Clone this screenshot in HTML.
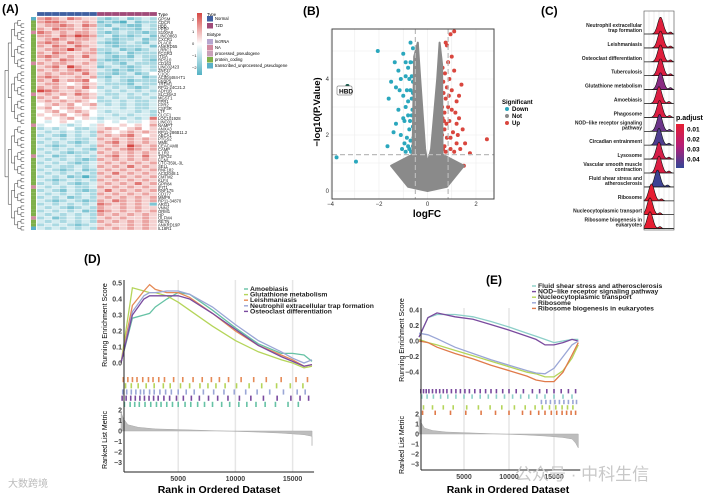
<!DOCTYPE html>
<html><head><meta charset="utf-8"><style>
html,body{margin:0;padding:0;background:#fff;}
svg{display:block;font-family:"Liberation Sans","Noto Sans CJK SC",sans-serif;}
</style></head><body>
<svg id="fig" width="709" height="496" viewBox="0 0 709 496" xmlns="http://www.w3.org/2000/svg">
<g id="pA"></g>
<g id="pB"></g>
<g id="pC"></g>
<g id="pD"></g>
<g id="pE"></g>
<text x="8" y="487" font-size="10" fill="#bbb">大数跨境</text>
<text x="515" y="480" font-size="17" fill="#c8c8c8">公众号 · 中科生信</text>
</svg>
<script>
// ---------- DATA ----------
const heatRows = [
"ghgfhgffcbcdbcdc","ghhgffgfbcbadbcc","fgghgfhgcbdcbbdc","gfhggfgfcdbccbdc","hgfgfggfcbcdccbc","ggfhgihgcdbcbcdb",
"fghgfggfdcbccdbc","ghgfhgffcbbcdcbd","gfhgfhgfdcbcccdb","fgggigfgccdbcbcd","gfhgffggcbcdbccc","ghgfgfhfdcbcbdcc",
"fgfhgffgcbbccdcb","gfggffgfcdcbdccc","fghfigffbcdcbcdc","gfgfghgfdcbcbcdc","fgfggfhfccbcdbce","ghgffgfgcbdccdbc",
"gfhfgghedcdcbccc","fggfefgfdcccbdcc","gfgfgfhfcdcdcbcd","ihgffgfedcdcdcdc","fgfgfhgfdccdcdcd","gfgeffgfcdcdccdc",
"fgfgfgfeccdcdccd","efgfgefgdcdcdccd","fgefgfefdddcdccd","efgefgfedcdddcdc","fefgefgeddcdcddc","efefgefdcddcdcdh",
"edefedeedededdef","deedcdedfeefefeg","cdcdeccdfgfefgef","dcdcdcdcgfefgfgf","cdcbdcdcfgfghfef","dcdcdccdgfgfgfgf",
"cdcdcbcdfghfgfgf","dcbcdcdcgfgfigfg","cdcdcdcbfgfghgfg","dcdcbccdgfgfgfgf","cdbcdcdcfghfgfhf","dcdcdcbcgfgfgfgf",
"cdcdcbcdfgfgfgfg","dcdccdcdgfgfhfgf","cdcbcdbcfgfgfgfg","dcdcdcdcgfhfgfgf","cdcdbcacfgfgfgfg","dcbcdcdcgfgfgfgf",
"cdcdcbcdfgfgfhfg","dcdcdccdgfgfgfgf","cdcbdcbcfhfgfgfg","dcdcdcdcgfgfgfgf","cdcdbcdcfgfgfgfg","dcbcdcbcgfhgfgfg",
"cdcdcdcdhgfgfgfb","dcdcbcdcgffgfgff","cdcdcdbchgfgfgfg","dcdcdcdcgfgfgfgf","cdbcdcdcfgfgffgf","dcdcdcdcgfgfgfgf",
"cdcdcbcdfgffgfgf","dcdcdcdcgfgfgfgf"];
const heatTypes = ["Normal","Normal","Normal","Normal","Normal","Normal","Normal","Normal","T2D","T2D","T2D","T2D","T2D","T2D","T2D","T2D"];
const geneLabels = ["GPSM","CDCR","HBB","PPBP","S100A8","LINC0863","CXCR1","PLAC8","ANKRD55","LRRC1","FCGR3","ITGA","RPS10","CD163","LINC02423","ZNF37","C1QC","AC004484-IT1","FKBP5","TREM1","RP11-24C21.2","ADH1B","SLC26A3","MGST1","FPR1","FPR2","CSF3R","LTF","CLCF1","LOC101928","LINC01","NAMPT","ANXA3","RP11-286B11.2","ABCA1","PTGS2","MME","CEACAM8","CAMP","IL1R2","TSPO2","FCN1","CTC-359L-3L","SELL","RNF182","AC02048.1","CMTM2","KLF4","GPR84","IFIT1","RNF175","CD177","MMP9","RP11-34870","ARG1","VNN2","ORM1","HP","OLFM4","RETN","ANKRD19P","IL18R1"];

const downPts = [[-3.3,3.75],[-2.05,5.0],[-1.6,3.3],[-1.65,1.6],[-3.75,1.2],[-2.95,1.05],[-1.5,3.9],[-1.35,4.6],[-1.2,4.3],[-1.3,3.7],[-1.1,4.0],[-1.0,4.9],[-0.9,4.6],[-0.8,4.4],[-0.7,5.3],[-0.6,5.1],[-1.0,3.4],[-0.9,3.0],[-1.2,2.9],[-1.3,2.4],[-1.1,2.0],[-0.95,2.5],[-0.85,1.9],[-0.75,2.2],[-0.7,3.6],[-0.65,2.7],[-0.6,1.6],[-1.05,1.5],[-0.9,1.4],[-0.75,1.5],[-0.65,4.1],[-1.4,2.1],[-1.15,3.6],[-0.8,3.2],[-0.6,3.9],[-0.7,1.8],[-1.0,2.6],[-0.9,4.1],[-0.55,4.6],[-0.8,2.7],[-0.6,2.3],[-0.65,3.3],[-0.7,4.6],[-0.58,1.9],[-0.62,2.9],[-0.85,3.6],[-0.75,4.0],[-0.68,1.4],[-0.8,1.6],[-0.95,1.7],[-0.6,3.5],[-0.72,2.5]];
const upPts = [[0.95,5.6],[1.1,5.7],[0.75,5.3],[0.8,5.2],[2.45,1.85],[1.75,1.35],[1.5,0.9],[1.4,3.8],[1.2,3.2],[1.3,2.6],[1.45,2.2],[1.1,4.3],[0.9,4.0],[0.85,4.6],[1.0,3.6],[0.75,3.3],[0.7,2.8],[0.9,2.5],[1.05,2.1],[0.8,1.9],[0.7,1.6],[1.2,1.7],[1.35,1.5],[0.95,1.5],[0.65,3.9],[1.15,2.8],[0.85,3.0],[0.7,2.2],[1.0,2.9],[1.25,2.0],[0.62,4.4],[0.95,1.9],[1.3,3.4],[0.75,1.4],[1.1,1.4],[1.55,1.7],[0.8,3.7],[1.0,4.8],[0.68,2.5],[1.2,2.4],[0.6,3.0],[0.66,3.5],[0.6,2.0],[0.72,4.2],[0.64,1.5],[0.78,2.4],[0.88,3.4],[0.62,2.6]];
const notCloud = [[0,0],[-0.8,0.15],[-1.5,0.9],[-0.62,1.3],[-0.55,4.8],[-0.4,5.3],[-0.3,4.0],[-0.1,1.5],[0,1.0],[0.15,1.5],[0.4,4.0],[0.5,5.3],[0.6,4.5],[0.62,1.3],[1.5,0.9],[0.8,0.15]];

const cLabels = [["Neutrophil extracellular","trap formation"],["Leishmaniasis"],["Osteoclast differentiation"],["Tuberculosis"],["Glutathione metabolism"],["Amoebiasis"],["Phagosome"],["NOD−like receptor signaling","pathway"],["Circadian entrainment"],["Lysosome"],["Vascular smooth muscle","contraction"],["Fluid shear stress and","atherosclerosis"],["Ribosome"],["Nucleocytoplasmic transport"],["Ribosome biogenesis in","eukaryotes"]];
const cPeak = [0.55,0.55,0.55,0.55,0.55,0.5,0.52,0.52,0.5,0.5,0.5,0.45,0.25,0.2,0.2];
const cPadj = [0.008,0.008,0.008,0.01,0.035,0.01,0.01,0.04,0.045,0.012,0.01,0.048,0.005,0.005,0.005];

const dNames = ["Amoebiasis","Glutathione metabolism","Leishmaniasis","Neutrophil extracellular trap formation","Osteoclast differentiation"];
const dRanks = [0,1000,2000,2500,3000,4000,5000,6000,8000,10000,12000,14000,15000,16000,16700];
const dES0 = [0,0.28,0.30,0.31,0.35,0.40,0.44,0.43,0.33,0.22,0.12,0.06,0.06,0.05,0.01];
const dES1 = [0,0.47,0.45,0.44,0.44,0.42,0.38,0.33,0.23,0.14,0.07,0.02,0.0,-0.03,-0.02];
const dES2 = [0,0.36,0.45,0.49,0.46,0.44,0.44,0.41,0.31,0.20,0.11,0.05,0.02,-0.02,-0.01];
const dES3 = [0,0.32,0.42,0.44,0.44,0.45,0.45,0.43,0.35,0.24,0.14,0.07,0.03,0.0,0.02];
const dES4 = [0,0.30,0.40,0.42,0.42,0.42,0.42,0.40,0.31,0.21,0.11,0.04,0.01,-0.02,-0.01];
const dHits0 = [300,800,1200,1600,2100,2600,3100,3500,4000,4500,5000,5600,6100,6700,7300,8000,8800,9500,10300,11000,11800,12600,13500,14600,15500];
const dHits1 = [400,900,1500,2200,2900,3700,4300,5200,6000,6900,7600,8300,9100,10100,11200,12300,13600,14800,15900];
const dHits2 = [200,600,1000,1400,1900,2400,2800,3300,3800,4600,5400,6300,7100,7900,8600,9400,10500,11600,12700,14000,15300,16300];
const dHits3 = [150,500,900,1300,1700,2000,2500,2900,3400,3900,4400,5000,5700,6400,7200,8100,9000,9900,10900,11900,13000,14200,15400,16100];
const dHits4 = [100,450,850,1250,1650,2050,2450,2850,3250,3750,4250,4850,5450,6150,6850,7650,8450,9350,10350,11350,12450,13650,14850,15650,16400];
const dHitsAll = [dHits2,dHits1,dHits3,dHits4,dHits0];

const eNames = ["Fluid shear stress and atherosclerosis","NOD−like receptor signaling pathway","Nucleocytoplasmic transport","Ribosome","Ribosome biogenesis in eukaryotes"];
const eRanks = [0,1000,2000,4000,6000,8000,10000,12000,13000,14000,15000,16000,17000,17700];
const eES0 = [0.05,0.30,0.34,0.34,0.31,0.25,0.18,0.10,0.06,0.02,-0.02,0.0,0.02,0.02];
const eES1 = [0.05,0.30,0.36,0.31,0.28,0.21,0.14,0.06,0.02,-0.05,-0.05,-0.02,0.02,0.0];
const eES2 = [0.02,-0.02,-0.05,-0.12,-0.19,-0.26,-0.33,-0.40,-0.42,-0.46,-0.46,-0.38,-0.22,-0.05];
const eES3 = [0.10,0.08,0.03,-0.08,-0.16,-0.24,-0.31,-0.38,-0.41,-0.42,-0.35,-0.20,-0.05,0.0];
const eES4 = [0.0,-0.02,-0.08,-0.16,-0.23,-0.31,-0.38,-0.45,-0.50,-0.52,-0.52,-0.40,-0.18,-0.02];
const eHits0 = [300,900,1600,2400,3200,4100,5000,5900,6800,7700,8600,9500,10400,11300,12200,13100,14000,15000,16000,17000];
const eHits1 = [200,500,800,1100,1500,1900,2300,2700,3100,3600,4100,4600,5100,5600,6200,6800,7400,8000,8600,9300,10000,10800,11600,12600,13400,14200,15000,15800,16600,17400];
const eHits2 = [500,1500,2700,3800,5300,6600,7900,9200,10600,11800,12900,13700,14500,15200,15900,16500,17100];
const eHits3 = [13600,14100,14600,15100,15600,16100,16600,17100,17500];
const eHits4 = [400,1800,3500,5200,6900,8500,10000,11500,12400,13300,14000,14700,15300,15900,16400,16900,17400];
const eHitsAll = [eHits1,eHits0,eHits3,eHits2,eHits4];

const metricRanks = [0,200,600,1500,3000,6000,9000,12000,14000,16000,17000,17400,17700];
const metricVals = [1.8,1.2,0.6,0.35,0.2,0.1,0.0,-0.1,-0.2,-0.35,-0.5,-0.9,-1.4];

// ---------- HELPERS ----------
const NS="http://www.w3.org/2000/svg";
function mk(parent,tag,attrs,txt){const e=document.createElementNS(NS,tag);for(const k in attrs)e.setAttribute(k,attrs[k]);if(txt!==undefined)e.textContent=txt;parent.appendChild(e);return e;}
function lerpC(a,b,t){return a.map((v,i)=>Math.round(v+(b[i]-v)*t));}
function rgb(c){return "rgb("+c.join(",")+")";}

// ---------- PANEL A ----------
(function(){
const g=document.getElementById('pA');
const t=mk(g,'text',{x:2,y:13,'font-size':12,'font-weight':'bold'},'(A)');


const x0=37,y0=17,cw=7.5,ch=213/heatRows.length;
const blue=[84,178,196],white=[255,255,255],red=[214,72,68];
function col(ch){const v=(ch.charCodeAt(0)-101)/4; return v<0?rgb(lerpC(white,blue,Math.min(1,-v))):rgb(lerpC(white,red,Math.min(1,v)));}
heatTypes.forEach((ty,j)=>{const r=mk(g,'rect',{x:x0+j*cw,y:12,width:cw,height:4,fill:ty==='Normal'?'#3f5fa0':'#a04a78',stroke:'#fff','stroke-width':0.2});

});
heatRows.forEach((row,i)=>{
 for(let j=0;j<row.length;j++){const r=mk(g,'rect',{x:x0+j*cw,y:y0+i*ch,width:cw,height:ch,fill:col(row[j]),stroke:'#fff','stroke-width':0.3});
 
 }
 const b=mk(g,'rect',{x:31,y:y0+i*ch,width:5,height:ch,fill:(i===0||i===61)?'#5ab0c8':(i%9===4?'#d28aa0':'#7fb04a')});
 
 
 const gl=mk(g,'text',{x:158,y:y0+i*ch+ch,'font-size':4.2,fill:'#222'},geneLabels[i]);
 
 
});
mk(g,'text',{x:158,y:16,'font-size':4.5},'Type');
function dend(lo,hi,x,depth){if(hi-lo<2||depth>7){return (y0+(lo+hi+1)/2*ch);}
 const mid=Math.floor((lo+hi)/2);const xc=x+3.2;
 const a=dend(lo,mid,xc,depth+1),b=dend(mid,hi,xc,depth+1);
 mk(g,'path',{d:`M${xc+ (depth>6?4:0)},${a}H${x}V${b}H${xc+(depth>6?4:0)}`,fill:'none',stroke:'#333','stroke-width':0.5});
 return (a+b)/2;}
dend(0,heatRows.length,5,0);
const gr=mk(g,'defs',{});const lg=mk(gr,'linearGradient',{id:'hg',x1:0,y1:0,x2:0,y2:1});
mk(lg,'stop',{offset:0,'stop-color':rgb(red)});mk(lg,'stop',{offset:0.5,'stop-color':'#fff'});mk(lg,'stop',{offset:1,'stop-color':rgb(blue)});
const cb=mk(g,'rect',{x:197,y:13,width:5,height:62,fill:'url(#hg)'});


[["2",21],["1",33],["0",45],["−1",57],["−2",69]].forEach(([s,y])=>mk(g,'text',{x:192,y:y,'font-size':4,fill:'#222'},s));
mk(g,'text',{x:207,y:16,'font-size':4.2},'Type');
[["#3f5fa0","Normal",20],["#a04a78","T2D",27]].forEach(([c,s,y])=>{const r=mk(g,'rect',{x:207,y:y-4,width:6,height:5.5,fill:c});mk(g,'text',{x:215,y:y,'font-size':4.2},s);});
mk(g,'text',{x:207,y:36,'font-size':4.2},'Biotype');
[["#b7a6cf","lncRNA",43],["#d28aa0","NA",49],["#c9a0b8","processed_pseudogene",55],["#7fb04a","protein_coding",61],["#5ab0c8","transcribed_unprocessed_pseudogene",67]].forEach(([c,s,y])=>{const r=mk(g,'rect',{x:207,y:y-4,width:6,height:5.5,fill:c});mk(g,'text',{x:215,y:y,'font-size':4.2},s);});
})();

// ---------- PANEL B ----------
(function(){
const g=document.getElementById('pB');
const t=mk(g,'text',{x:303,y:15,'font-size':12,'font-weight':'bold'},'(B)');


const X=v=>427.5+v*24.25, Y=p=>191-p*28;
const L=332,R=494,T=29,B=199;
[-4,-3,-2,-1,0,1,2].forEach(v=>mk(g,'line',{x1:X(v),x2:X(v),y1:T,y2:B,stroke:'#ececec','stroke-width':0.6}));
[0,1,2,3,4,5].forEach(v=>mk(g,'line',{x1:L,x2:R,y1:Y(v),y2:Y(v),stroke:'#ececec','stroke-width':0.6}));
downPts.forEach(p=>{const c=mk(g,'circle',{cx:X(p[0]),cy:Y(p[1]),r:2,fill:'#2aa7bd'});});
upPts.forEach(p=>{const c=mk(g,'circle',{cx:X(p[0]),cy:Y(p[1]),r:2,fill:'#d9463e'});});
const cl=mk(g,'polygon',{points:notCloud.map(p=>X(p[0]).toFixed(1)+','+Y(p[1]).toFixed(1)).join(' '),fill:'#8a8a8a',stroke:'#8a8a8a','stroke-width':2,'stroke-linejoin':'round'});


mk(g,'line',{x1:X(-0.5),x2:X(-0.5),y1:T,y2:B,stroke:'#bbb','stroke-width':1.2,'stroke-dasharray':'5,3'});
mk(g,'line',{x1:X(0.85),x2:X(0.85),y1:T,y2:B,stroke:'#bbb','stroke-width':1.2,'stroke-dasharray':'5,3'});
mk(g,'line',{x1:L,x2:R,y1:Y(1.3),y2:Y(1.3),stroke:'#bbb','stroke-width':1.2,'stroke-dasharray':'5,3'});
mk(g,'circle',{cx:X(-3.3),cy:Y(3.75),r:2,fill:'#1d5a4a'});
mk(g,'rect',{x:337,y:86,width:15,height:9,fill:'#fff',stroke:'#555','stroke-width':0.5,rx:1});
mk(g,'text',{x:339,y:93.5,'font-size':6.5,'font-weight':'bold'},'HBD');
const fr=mk(g,'rect',{x:L,y:T,width:R-L,height:B-T,fill:'none',stroke:'#444','stroke-width':1});


[-4,-2,0,2].forEach(v=>{mk(g,'text',{x:X(v),y:206,'font-size':6,'text-anchor':'middle',fill:'#333'},String(v).replace('-','−'));});
[0,2,4].forEach(v=>mk(g,'text',{x:329,y:Y(v)+2,'font-size':6,'text-anchor':'end',fill:'#333'},v));
const xl=mk(g,'text',{x:427,y:217,'font-size':10,'font-weight':'bold','text-anchor':'middle'},'logFC');

const yl=mk(g,'text',{x:0,y:0,'font-size':9.5,'font-weight':'bold','text-anchor':'middle',transform:'translate(320,112) rotate(-90)'},'−log10(P.Value)');

mk(g,'text',{x:502,y:104,'font-size':6,'font-weight':'bold'},'Significant');
[["#2aa7bd","Down",111],["#8a8a8a","Not",118],["#d9463e","Up",125]].forEach(([c,s,y])=>{const e=mk(g,'circle',{cx:507,cy:y-2,r:2,fill:c});mk(g,'text',{x:512,y:y,'font-size':6,'font-weight':'bold'},s);});
})();

// ---------- PANEL C ----------
(function(){
const g=document.getElementById('pC');
const t=mk(g,'text',{x:541,y:15,'font-size':12,'font-weight':'bold'},'(C)');

const L=644,R=674,T=11,B=230;
for(let i=0;i<7;i++)mk(g,'line',{x1:L+i*5,x2:L+i*5,y1:T,y2:B,stroke:'#ddd','stroke-width':0.5});
const red=[230,30,50],mag=[180,30,120],blu=[50,70,150];
function pc(p){const t=(p-0.005)/0.045;return t<0.5?rgb(lerpC(red,mag,t*2)):rgb(lerpC(mag,blu,Math.min(1,(t-0.5)*2)));}
cLabels.forEach((lab,i)=>{
 const base=34+i*13.9;
 const px=L+cPeak[i]*(R-L);
 let d=`M${L},${base}`;
 for(let k=0;k<=30;k++){const x=L+k*(R-L)/30;const z=(x-px)/2.8;const h=17*Math.exp(-z*z/2)+2*Math.exp(-Math.pow((x-px-10)/2,2));d+=`L${x.toFixed(1)},${(base-h).toFixed(1)}`;}
 d+=`L${R},${base}Z`;
 const r=mk(g,'path',{d:d,fill:pc(cPadj[i]),stroke:'#111','stroke-width':0.6});
 
 mk(g,'line',{x1:L,x2:R,y1:base,y2:base,stroke:'#111','stroke-width':0.6});
 lab.forEach((s,k)=>{const tx=mk(g,'text',{x:642,y:base-2-(lab.length-1-k)*5,'font-size':5,'font-weight':'bold','text-anchor':'end',fill:'#222'},s);});
});
mk(g,'rect',{x:L,y:T,width:R-L,height:B-T,fill:'none',stroke:'#555','stroke-width':0.6});
const df=mk(g,'defs',{});const lg=mk(df,'linearGradient',{id:'pg',x1:0,y1:0,x2:0,y2:1});
mk(lg,'stop',{offset:0,'stop-color':rgb(red)});mk(lg,'stop',{offset:0.5,'stop-color':rgb(mag)});mk(lg,'stop',{offset:1,'stop-color':rgb(blu)});
mk(g,'text',{x:676,y:120,'font-size':7,'font-weight':'bold'},'p.adjust');
const cb=mk(g,'rect',{x:676,y:124,width:8,height:44,fill:'url(#pg)'});

[["0.01",129],["0.02",139],["0.03",149],["0.04",159]].forEach(([s,y])=>mk(g,'text',{x:687,y:y+2.5,'font-size':6.5,'font-weight':'bold'},s));
})();

// ---------- GSEA panels ----------
const colsD=["#66c2a5","#b5d55a","#e58a56","#9aa6d6","#7a4a9e"];
const colsE=["#8ccfc8","#7a4a9e","#b5d55a","#9aa6d6","#e07a4a"];
function gsea(gid,label,lx,ly,cfg){
 const g=document.getElementById(gid);
 const t=mk(g,'text',{x:lx,y:ly,'font-size':12,'font-weight':'bold'},label);
 
 const X=r=>cfg.x0+r*cfg.kx;
 const Y=v=>cfg.y0-v*cfg.ky;
 const M=v=>cfg.m0-v*cfg.km;
 [5000,10000,15000].forEach(r=>mk(g,'line',{x1:X(r),x2:X(r),y1:cfg.top,y2:cfg.bot,stroke:'#e6e6e6','stroke-width':1.5}));
 cfg.series.forEach((s,i)=>{
  const p=mk(g,'polyline',{points:s.map((v,k)=>X(cfg.ranks[k]).toFixed(1)+','+Y(v).toFixed(1)).join(' '),fill:'none',stroke:cfg.cols[i],'stroke-width':1.3});
  
 });
 cfg.hits.forEach((arr,i)=>{arr.forEach(r=>{const l=mk(g,'line',{x1:X(r),x2:X(r),y1:cfg.rug+i*cfg.rh,y2:cfg.rug+(i+1)*cfg.rh-1,stroke:cfg.rugCols[i],'stroke-width':1.6});});});
 let d=`M${X(0)},${M(0)}`;metricRanks.forEach((r,k)=>{d+=`L${X(Math.min(r,cfg.xmax)).toFixed(1)},${M(metricVals[k]).toFixed(1)}`;});d+=`L${X(cfg.xmax)},${M(0)}Z`;
 const a=mk(g,'path',{d:d,fill:'#bdbdbd',stroke:'#aaa','stroke-width':0.5});
 
 mk(g,'line',{x1:cfg.left,x2:cfg.left,y1:cfg.top,y2:cfg.bot,stroke:'#222','stroke-width':1});
 mk(g,'line',{x1:cfg.left,x2:X(cfg.xmax)+2,y1:cfg.bot,y2:cfg.bot,stroke:'#222','stroke-width':1});
 cfg.ticks.forEach(v=>mk(g,'text',{x:cfg.left-2,y:Y(v)+2.5,'font-size':7,'font-weight':'bold','text-anchor':'end',fill:'#444'},v.toFixed(1).replace('-','−')));
 [2,1,0,-1,-2,-3].forEach(v=>mk(g,'text',{x:cfg.left-2,y:M(v)+2.5,'font-size':7,'font-weight':'bold','text-anchor':'end',fill:'#444'},String(v).replace('-','−')));
 [5000,10000,15000].forEach(r=>mk(g,'text',{x:X(r),y:cfg.bot+9,'font-size':7,'font-weight':'bold','text-anchor':'middle',fill:'#444'},r));
 const xt=mk(g,'text',{x:cfg.xc,y:493,'font-size':10.5,'font-weight':'bold','text-anchor':'middle'},'Rank in Ordered Dataset');
 
 const y1=mk(g,'text',{x:0,y:0,'font-size':7,'text-anchor':'middle',transform:`translate(${cfg.left-17},${cfg.esMid}) rotate(-90)`},'Running Enrichment Score');
 
 const y2=mk(g,'text',{x:0,y:0,'font-size':7,'text-anchor':'middle',transform:`translate(${cfg.left-17},${cfg.mMid}) rotate(-90)`},'Ranked List Metric');
 
 cfg.names.forEach((n,i)=>{const y=cfg.ly+i*5.6;mk(g,'line',{x1:cfg.lx,x2:cfg.lx+4,y1:y-2,y2:y-2,stroke:cfg.cols[i],'stroke-width':1.4});
  const e=mk(g,'text',{x:cfg.lx+6,y:y,'font-size':6.8,'font-weight':'bold',fill:'#222'},n);});
}
gsea('pD','(D)',84,263,{x0:121,kx:0.01144,xmax:16700,left:124,top:280,bot:472,y0:363,ky:160,m0:431,km:10.5,
 ranks:dRanks,series:[dES0,dES1,dES2,dES3,dES4],cols:colsD,hits:dHitsAll,rugCols:[colsD[2],colsD[1],colsD[3],colsD[4],colsD[0]],rug:377,rh:6.2,
 ticks:[0.5,0.4,0.3,0.2,0.1,0.0],names:dNames,lx:244,ly:291,xc:219,esMid:325,mMid:440});
gsea('pE','(E)',486,284,{x0:419,kx:0.009,xmax:17700,left:421,top:308,bot:470,y0:341,ky:78,m0:434,km:10,
 ranks:eRanks,series:[eES0,eES1,eES2,eES3,eES4],cols:colsE,hits:eHitsAll,rugCols:[colsE[1],colsE[0],colsE[3],colsE[2],colsE[4]],rug:389,rh:5.4,
 ticks:[0.4,0.2,0.0,-0.2,-0.4],names:eNames,lx:532,ly:288,xc:508,esMid:340,mMid:445});
</script>
</body></html>
